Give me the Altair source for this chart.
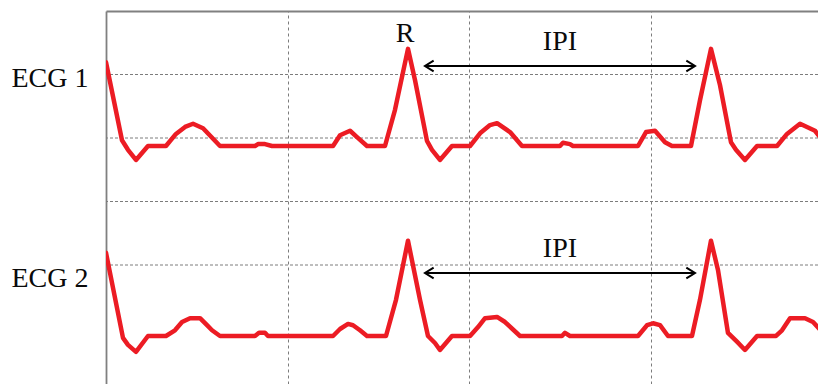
import altair as alt
import pandas as pd

# ---- data (time in ms, amplitude in grid units relative to each trace baseline) ----
ecg1_t = [0, 17.6, 24.2, 33.0, 46.2, 66.0, 77.0, 87.0, 95.8, 106.8, 125.5, 164.0, 167.3, 175.0,
          182.7, 249.9, 257.6, 268.6, 276.3, 287.3, 307.1, 318.1, 332.4, 340.1, 353.3, 358.8,
          367.6, 380.8, 400.7, 411.7, 422.7, 430.4, 444.7, 457.9, 499.7, 503.0, 510.7, 514.0,
          585.6, 594.4, 604.3, 615.3, 623.0, 643.9, 653.8, 665.9, 675.8, 687.9, 693.4, 703.3,
          716.6, 738.6, 749.6, 763.9, 780.4, 792.5]
ecg1_amp = [1.32, 0.09, -0.06, -0.22, 0, 0, 0.19, 0.30, 0.35, 0.28, 0, 0, 0.03, 0.03,
            0, 0, 0.17, 0.24, 0.14, 0, 0, 0.57, 1.53, 1.04, 0.08, -0.06,
            -0.22, 0, 0, 0.20, 0.33, 0.36, 0.22, 0, 0, 0.05, 0.03, 0,
            0, 0.22, 0.24, 0.06, 0, 0, 0.72, 1.53, 0.96, 0.06, -0.06, -0.22,
            0, 0, 0.19, 0.35, 0.24, 0.02]

ecg2_t = [0, 18.7, 24.2, 33.0, 46.2, 66.0, 75.9, 83.7, 92.5, 103.5, 111.2, 116.7, 125.5, 164.0,
          168.4, 175.0, 178.3, 249.9, 257.6, 266.4, 271.9, 279.6, 287.3, 308.2, 319.2, 332.4,
          345.6, 354.4, 362.1, 367.6, 380.8, 400.7, 409.5, 417.2, 430.4, 439.2, 455.7, 501.9,
          505.2, 510.7, 585.6, 595.5, 602.1, 609.8, 618.6, 645.0, 653.8, 665.9, 673.6, 684.6,
          694.5, 703.3, 716.6, 737.5, 744.1, 752.9, 769.4, 778.2, 792.5]
ecg2_amp = [1.31, -0.03, -0.14, -0.25, 0, 0, 0.09, 0.22, 0.28, 0.28, 0.17, 0.09, 0, 0,
            0.05, 0.05, 0, 0, 0.11, 0.19, 0.17, 0.09, 0, 0, 0.57, 1.50,
            0.57, 0, -0.11, -0.22, 0, 0, 0.14, 0.28, 0.30, 0.22, 0, 0,
            0.05, 0, 0, 0.17, 0.20, 0.17, 0, 0, 0.57, 1.50, 1.04, 0.05,
            -0.09, -0.22, 0, 0, 0.09, 0.28, 0.28, 0.22, 0]

trace_names = ["ECG 1", "ECG 2"]
trace_baselines = [3.874, 0.882]
label_levels = [4.93, 1.78]

grid_x = [200, 400, 600]
grid_y = [2, 3, 4, 5]

arrow_start = [351.1, 351.1]
arrow_end = [648.3, 648.3]
arrow_level = [5.134, 1.874]

ann_text = ["R", "IPI", "IPI"]
ann_t = [329.1, 499.7, 499.7]
ann_y = [5.512, 5.386, 2.126]

X_DOMAIN = [0, 783.7]
Y_DOMAIN = [0.126, 6]

# ---- tables ----
rows = []
for name, base, ts, amps in [(trace_names[0], trace_baselines[0], ecg1_t, ecg1_amp),
                             (trace_names[1], trace_baselines[1], ecg2_t, ecg2_amp)]:
    for i, (t, a) in enumerate(zip(ts, amps)):
        rows.append({"trace": name, "order": i, "t": t, "y": base + a})
ecg = pd.DataFrame(rows)

arrows = pd.DataFrame({"x1": arrow_start, "x2": arrow_end, "y": arrow_level})
heads_l = pd.DataFrame({"x": arrow_start, "y": arrow_level})
heads_r = pd.DataFrame({"x": arrow_end, "y": arrow_level})
ann = pd.DataFrame({"text": ann_text, "t": ann_t, "y": ann_y})
gy = pd.DataFrame({"y": grid_y})

xs = alt.Scale(domain=X_DOMAIN, nice=False, zero=False)
ys = alt.Scale(domain=Y_DOMAIN, nice=False, zero=False)

label_expr = "datum.value > 3 ? '" + trace_names[0] + "' : '" + trace_names[1] + "'"

grid_color = "#7c7c7c"
border_color = "#808080"
red = "#EC1C24"

ygrid = alt.Chart(gy).mark_rule(color=grid_color, strokeWidth=1, strokeDash=[3, 2]).encode(
    y=alt.Y("y:Q", scale=ys,
            axis=alt.Axis(values=label_levels, labelExpr=label_expr, ticks=False, tickSize=0,
                          grid=False, domain=True, domainColor=border_color, domainWidth=1.8,
                          labelFont="Liberation Serif", labelFontSize=28, labelColor="#0a0a0a",
                          labelPadding=18, labelAlign="right", labelBaseline="middle", title=None)),
)

xaxis_layer = alt.Chart(gy).mark_point(opacity=0).encode(
    x=alt.X("xx:Q", scale=xs,
            axis=alt.Axis(orient="top", values=grid_x, grid=True, gridColor=grid_color,
                          gridDash=[3, 3], gridWidth=1, labels=False, ticks=False, tickSize=0,
                          domain=True, domainColor=border_color, domainWidth=1.8, title=None)),
    y=alt.Y("y:Q", scale=ys),
).transform_calculate(xx="100")

lines = alt.Chart(ecg).mark_line(color=red, strokeWidth=4.5, clip=True, strokeJoin="round",
                                 strokeCap="round").encode(
    x=alt.X("t:Q", scale=xs),
    y=alt.Y("y:Q", scale=ys),
    detail="trace:N",
    order="order:Q",
)

arrow_lines = alt.Chart(arrows).mark_rule(color="black", strokeWidth=2).encode(
    x=alt.X("x1:Q", scale=xs), x2="x2:Q", y=alt.Y("y:Q", scale=ys)
)
head_left = alt.Chart(heads_l).mark_point(shape="M 1 -0.62 L 0 0 L 1 0.62", filled=False,
                                          stroke="black", strokeWidth=2, size=300, opacity=1).encode(
    x=alt.X("x:Q", scale=xs), y=alt.Y("y:Q", scale=ys)
)
head_right = alt.Chart(heads_r).mark_point(shape="M -1 -0.62 L 0 0 L -1 0.62", filled=False,
                                           stroke="black", strokeWidth=2, size=300, opacity=1).encode(
    x=alt.X("x:Q", scale=xs), y=alt.Y("y:Q", scale=ys)
)

texts = alt.Chart(ann).mark_text(font="Liberation Serif", fontSize=28, color="#0a0a0a",
                                 align="center", baseline="alphabetic").encode(
    x=alt.X("t:Q", scale=xs), y=alt.Y("y:Q", scale=ys), text="text:N"
)

chart = alt.layer(ygrid, xaxis_layer, lines, arrow_lines, head_left, head_right, texts).properties(
    width=712, height=373,
    autosize=alt.AutoSizeParams(type="none"),
    padding={"left": 98, "top": 3, "right": 0, "bottom": 0},
    background="white",
).configure_view(stroke=None)

chart.save("out.html", embed_options={"renderer": "svg", "actions": False})
